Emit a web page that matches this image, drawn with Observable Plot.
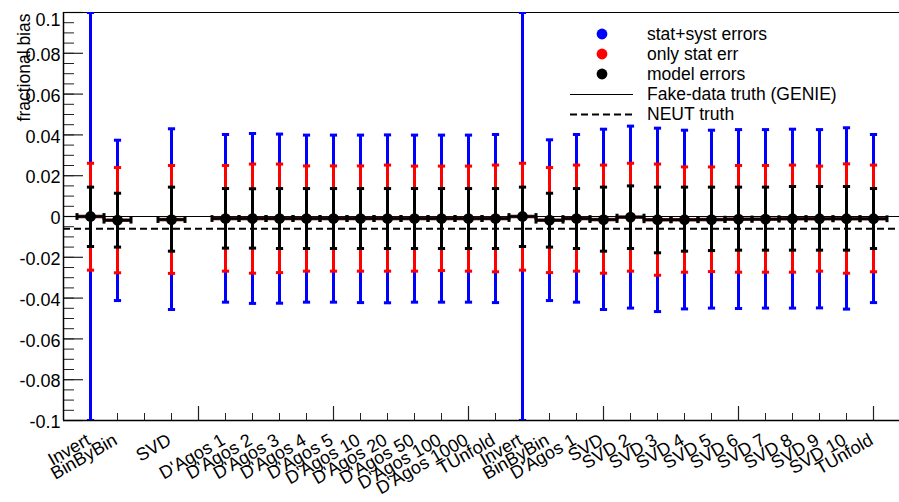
<!DOCTYPE html>
<html>
<head>
<meta charset="utf-8">
<script src="https://cdn.jsdelivr.net/npm/d3@7"></script>
<script src="https://cdn.jsdelivr.net/npm/@observablehq/plot@0.6"></script>
<style>
  html, body { margin: 0; padding: 0; background: #fff; }
  #chart { position: relative; width: 899px; height: 502px; }
  #legend { position: absolute; left: 0; top: 0; pointer-events: none; }
</style>
</head>
<body>
<div id="chart"></div>
<script>
// Unfolding methods, in axis order, and their bin positions
const methods = ["Invert", "BinByBin", "SVD", "D'Agos 1", "D'Agos 2", "D'Agos 3", "D'Agos 4",
  "D'Agos 5", "D'Agos 10", "D'Agos 20", "D'Agos 50", "D'Agos 100", "D'Agos 1000", "TUnfold",
  "Invert", "BinByBin", "D'Agos 1", "SVD", "SVD 2", "SVD 3", "SVD 4", "SVD 5", "SVD 6",
  "SVD 7", "SVD 8", "SVD 9", "SVD 10", "TUnfold"];
const binPos = [1, 2, 4, 6, 7, 8, 9, 10, 11, 12, 13, 14, 15, 16,
  17, 18, 19, 20, 21, 22, 23, 24, 25, 26, 27, 28, 29, 30];

// Fractional bias (central value)
const bias = [0.0000, -0.0018, -0.0015, -0.0010, -0.0010, -0.0010, -0.0010, -0.0010, -0.0010,
  -0.0010, -0.0010, -0.0010, -0.0010, -0.0010,
  0.0000, -0.0018, -0.0010, -0.0015, -0.0003, -0.0016, -0.0016, -0.0015, -0.0013, -0.0013,
  -0.0011, -0.0011, -0.0011, -0.0011];

// stat+syst error band ends
const systHi = [0.1, 0.0374, 0.0430, 0.0402, 0.0407, 0.0404, 0.0399, 0.0399, 0.0399, 0.0400,
  0.0399, 0.0399, 0.0399, 0.0402,
  0.1, 0.0376, 0.0402, 0.0428, 0.0443, 0.0433, 0.0423, 0.0423, 0.0426, 0.0426, 0.0428,
  0.0426, 0.0435, 0.0402];
const systLo = [-0.1, -0.0412, -0.0456, -0.0420, -0.0426, -0.0425, -0.0420, -0.0420, -0.0422,
  -0.0423, -0.0420, -0.0420, -0.0420, -0.0422,
  -0.1, -0.0412, -0.0420, -0.0456, -0.0449, -0.0466, -0.0453, -0.0449, -0.0451, -0.0449,
  -0.0449, -0.0448, -0.0454, -0.0422];

// stat-only error ends
const statHi = [0.0261, 0.0240, 0.0250, 0.0250, 0.0257, 0.0257, 0.0248, 0.0248, 0.0248, 0.0252,
  0.0247, 0.0247, 0.0247, 0.0252,
  0.0261, 0.0240, 0.0252, 0.0252, 0.0261, 0.0257, 0.0243, 0.0243, 0.0250, 0.0250, 0.0252,
  0.0247, 0.0258, 0.0252];
const statLo = [-0.0263, -0.0276, -0.0279, -0.0268, -0.0278, -0.0275, -0.0268, -0.0268, -0.0268,
  -0.0268, -0.0268, -0.0265, -0.0268, -0.0271,
  -0.0263, -0.0275, -0.0268, -0.0278, -0.0268, -0.0288, -0.0273, -0.0270, -0.0273, -0.0273,
  -0.0273, -0.0268, -0.0278, -0.0271];

// model error ends
const modelHi = [0.0144, 0.0114, 0.0144, 0.0137, 0.0136, 0.0137, 0.0137, 0.0137, 0.0137, 0.0137,
  0.0137, 0.0137, 0.0137, 0.0137,
  0.0144, 0.0114, 0.0137, 0.0144, 0.0150, 0.0144, 0.0144, 0.0144, 0.0144, 0.0144, 0.0147,
  0.0147, 0.0147, 0.0137];
const modelLo = [-0.0147, -0.0150, -0.0170, -0.0155, -0.0155, -0.0157, -0.0157, -0.0157, -0.0157,
  -0.0157, -0.0157, -0.0157, -0.0157, -0.0157,
  -0.0147, -0.0150, -0.0157, -0.0170, -0.0157, -0.0178, -0.0170, -0.0167, -0.0165, -0.0165,
  -0.0165, -0.0165, -0.0165, -0.0157];

// Reference truths
const genieTruth = 0;
const neutTruth = -0.006;

// Axis ticks
const yMajor = [0.1, 0.08, 0.06, 0.04, 0.02, 0, -0.02, -0.04, -0.06, -0.08, -0.1];
const yTickLabels = ["0.1", "0.08", "0.06", "0.04", "0.02", "0", "-0.02", "-0.04", "-0.06", "-0.08", "-0.1"];
const yMinor = d3.range(-0.1, 0.1001, 0.005);
const xMinor = d3.range(1, 31);
const xMajor = [5, 10, 15, 20, 25, 30];

const rows = methods.map((label, i) => ({
  label, pos: binPos[i], value: bias[i],
  systHi: systHi[i], systLo: systLo[i],
  statHi: statHi[i], statLo: statLo[i],
  modelHi: modelHi[i], modelLo: modelLo[i]
}));

// Error-bar end caps as stroke-only symbols
const hcap = { draw(ctx, size) { const r = Math.sqrt(size / Math.PI); ctx.moveTo(-r, 0); ctx.lineTo(r, 0); } };
const vcap = { draw(ctx, size) { const r = Math.sqrt(size / Math.PI); ctx.moveTo(0, -r); ctx.lineTo(0, r); } };

const W = 899, H = 502;
const mL = 63, mT = 12, mB = 82;
const frameW = W - mL, frameH = H - mT - mB;
const BLUE = "#0000ff", RED = "#ff0000", BLACK = "#000000";
const FONT = "'Liberation Sans', Arial, Helvetica, sans-serif";

function bars(color, lo, hi) {
  return [
    Plot.ruleX(rows, {x: "pos", y1: lo, y2: hi, stroke: color, strokeWidth: 3, clip: true}),
    Plot.dot(rows, {x: "pos", y: lo, symbol: hcap, r: 3.6, fill: "none", stroke: color, strokeWidth: 3, clip: true}),
    Plot.dot(rows, {x: "pos", y: hi, symbol: hcap, r: 3.6, fill: "none", stroke: color, strokeWidth: 3, clip: true})
  ];
}

const chart = Plot.plot({
  width: W, height: H,
  marginLeft: mL, marginRight: 0, marginTop: mT, marginBottom: mB,
  x: {domain: [0, 31], range: [mL, 900], axis: null},
  y: {domain: [-0.1, 0.1], range: [H - mB, mT], axis: null},
  style: {fontFamily: FONT, background: "#fff", color: "#000"},
  marks: [
    // minor and major ticks drawn inward
    Plot.tickY(yMinor, {stroke: "#222", strokeWidth: 1, insetRight: frameW - 11}),
    Plot.tickY(yMajor, {stroke: "#222", strokeWidth: 1.2, insetRight: frameW - 20}),
    Plot.tickX(xMinor, {stroke: "#222", strokeWidth: 1, insetTop: frameH - 7}),
    Plot.tickX(xMajor, {stroke: "#222", strokeWidth: 1.2, insetTop: frameH - 14}),
    // frame: top edge, left and bottom axes
    Plot.ruleY([0.1], {stroke: "#000", strokeWidth: 1}),
    Plot.ruleX([0], {stroke: "#000", strokeWidth: 1.5}),
    Plot.ruleY([-0.1], {stroke: "#000", strokeWidth: 1.5}),
    // truth lines
    Plot.ruleY([genieTruth], {stroke: "#000", strokeWidth: 1}),
    Plot.ruleY([neutTruth], {stroke: "#000", strokeWidth: 2, strokeDasharray: "7,4"}),
    // error bars: stat+syst, stat only, model
    ...bars(BLUE, "systLo", "systHi"),
    ...bars(RED, "statLo", "statHi"),
    ...bars(BLACK, "modelLo", "modelHi"),
    // bin-width bars
    Plot.ruleY(rows, {y: "value", x1: d => d.pos - 0.5, x2: d => d.pos + 0.5, stroke: "#7a2a2a", strokeWidth: 3.6}),
    Plot.ruleY(rows, {y: "value", x1: d => d.pos - 0.5, x2: d => d.pos + 0.5, stroke: BLACK, strokeWidth: 2.4}),
    Plot.dot(rows, {x: d => d.pos - 0.5, y: "value", symbol: vcap, r: 3.4, fill: "none", stroke: BLACK, strokeWidth: 3}),
    Plot.dot(rows, {x: d => d.pos + 0.5, y: "value", symbol: vcap, r: 3.4, fill: "none", stroke: BLACK, strokeWidth: 3}),
    Plot.dot(rows, {x: "pos", y: "value", r: 5.4, fill: BLACK, stroke: "none"}),
    // y tick labels
    Plot.text(yMajor.slice(1), {y: d => d, text: (d, i) => yTickLabels[i + 1], frameAnchor: "left",
      dx: -3, dy: 2, textAnchor: "end", fontSize: 18, fill: "#000"}),
    Plot.text(yMajor.slice(0, 1), {y: d => d, text: (d, i) => yTickLabels[i], frameAnchor: "left",
      dx: -3, dy: 8, textAnchor: "end", fontSize: 18, fill: "#000"}),
    // method labels
    Plot.text(rows, {x: "pos", text: "label", frameAnchor: "bottom", dy: 23, dx: 1,
      rotate: -30, textAnchor: "end", fontSize: 18, fill: "#000"}),
    // y title
    Plot.text(["fractional bias"], {text: d => d, frameAnchor: "top-left", dx: -46, dy: 1,
      rotate: -90, textAnchor: "end", fontSize: 17.5, fill: "#000"})
  ]
});
document.getElementById("chart").appendChild(chart);

// Legend
const legendEntries = [
  {label: "stat+syst errors", kind: "dot", color: BLUE},
  {label: "only stat err", kind: "dot", color: RED},
  {label: "model errors", kind: "dot", color: BLACK},
  {label: "Fake-data truth (GENIE)", kind: "line", dash: null},
  {label: "NEUT truth", kind: "line", dash: "7,4"}
];
const lg = d3.select("#chart").append("svg").attr("id", "legend")
  .attr("width", W).attr("height", H);
const row = lg.selectAll("g").data(legendEntries).join("g")
  .attr("transform", (d, i) => `translate(0, ${34 + i * 20})`);
row.filter(d => d.kind === "dot").append("circle")
  .attr("cx", 602).attr("cy", 0).attr("r", 5.4).attr("fill", d => d.color);
row.filter(d => d.kind === "line").append("line")
  .attr("x1", 570).attr("x2", 633).attr("y1", 0.5).attr("y2", 0.5)
  .attr("stroke", "#000").attr("stroke-width", d => d.dash ? 2 : 1.2)
  .attr("stroke-dasharray", d => d.dash);
row.append("text")
  .attr("x", 647).attr("y", 5.5)
  .attr("font-family", FONT).attr("font-size", 17.5).attr("fill", "#000")
  .text(d => d.label);
</script>
</body>
</html>
